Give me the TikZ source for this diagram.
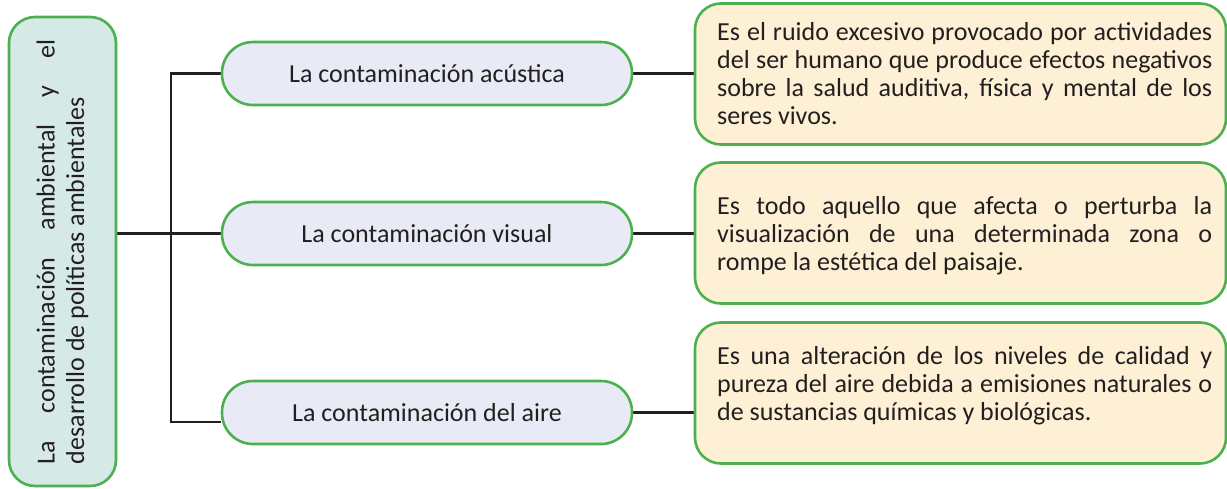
\documentclass[tikz,border=0pt]{standalone}
\usepackage{fontspec}
\setmainfont{Carlito}
\usetikzlibrary{backgrounds}
\definecolor{gborder}{RGB}{77,176,80}
\definecolor{pillfill}{RGB}{232,235,245}
\definecolor{creamfill}{RGB}{253,240,212}
\definecolor{tealfill}{RGB}{213,233,230}
\definecolor{inkc}{RGB}{35,31,32}
\tikzset{
  lbox/.style={draw=gborder, line width=2.6pt, fill=tealfill, rounded corners=26pt, minimum width=107pt, minimum height=469pt, inner sep=0pt, text=inkc},
  pill/.style={draw=gborder, line width=2.6pt, fill=pillfill, rounded corners=31pt, minimum width=410pt, minimum height=63pt, inner sep=0pt, text=inkc, font=\fontsize{26pt}{28pt}\selectfont},
  dbox/.style={draw=gborder, line width=2.6pt, fill=creamfill, rounded corners=26pt, minimum width=531pt, minimum height=141pt, inner sep=0pt},
  dtext/.style={anchor=west, inner sep=0pt, text=inkc, font=\fontsize{26pt}{28pt}\selectfont},
  conn/.style={draw=inkc, line width=2.2pt}
}
\newcommand{\jline}[2]{\makebox[#1][s]{#2}}
\begin{document}
\begin{tikzpicture}[x=1pt, y=-1pt]
\useasboundingbox (0,0) rectangle (1227,488);
% left box
\node[lbox] (L) at (62.5,251.5) {\rotatebox{90}{\parbox{425pt}{\fontsize{26pt}{29.5pt}\selectfont\jline{425pt}{La contaminación ambiental y el}\\desarrollo de políticas ambientales}}};
% pills
\node[pill] (p1) at (427,73.5) {La contaminación acústica};
\node[pill] (p2) at (427,233.5) {La contaminación visual};
\node[pill] (p3) at (427,412.5) {La contaminación del aire};
% description boxes
\node[dbox] (d1) at (960.5,74) {};
\node[dbox] (d2) at (960.5,233) {};
\node[dbox] (d3) at (960.5,393) {};
\node[dtext] (t1) at (717,73.5) {\parbox{495pt}{\jline{495pt}{Es el ruido excesivo provocado por actividades}\\\jline{495pt}{del ser humano que produce efectos negativos}\\\jline{495pt}{sobre la salud auditiva, física y mental de los}\\seres vivos.}};
\node[dtext] (t2) at (717,236) {\parbox{495pt}{\jline{495pt}{Es todo aquello que afecta o perturba la}\\\jline{495pt}{visualización de una determinada zona o}\\rompe la estética del paisaje.}};
\node[dtext] (t3) at (717,386) {\parbox{495pt}{\jline{495pt}{Es una alteración de los niveles de calidad y}\\\jline{495pt}{pureza del aire debida a emisiones naturales o}\\de sustancias químicas y biológicas.}};
% connectors
\coordinate (ttop) at (171,73.5);
\coordinate (tbot) at (171,422);
\begin{pgfonlayer}{background}
\draw[conn] (p1.west) -- (ttop) -- (tbot) -- (tbot -| p3.west);
\draw[conn] (L.east |- p2.west) -- (p2.west);
\draw[conn] (p1.east) -- (p1.east -| d1.west);
\draw[conn] (p2.east) -- (p2.east -| d2.west);
\draw[conn] (p3.east) -- (p3.east -| d3.west);
\end{pgfonlayer}
\end{tikzpicture}
\end{document}
